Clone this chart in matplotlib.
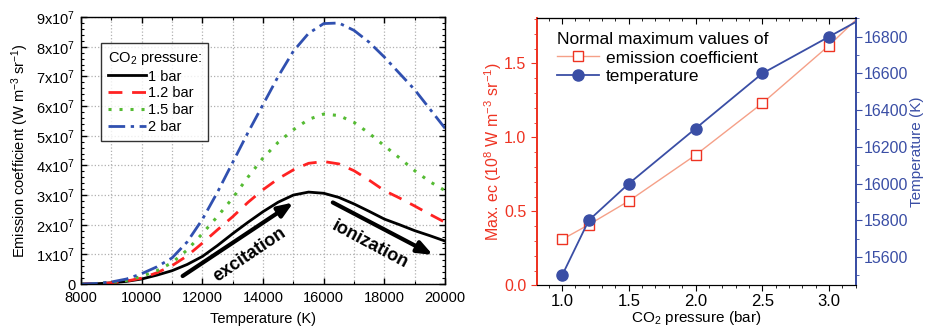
import numpy as np
import matplotlib
matplotlib.use("Agg")
import matplotlib.pyplot as plt
from matplotlib.ticker import MultipleLocator, FuncFormatter

plt.rcParams['font.family'] = ['Liberation Sans', 'DejaVu Sans']
plt.rcParams['mathtext.fontset'] = 'custom'
plt.rcParams['mathtext.rm'] = 'Liberation Sans'
plt.rcParams['mathtext.it'] = 'Liberation Sans:italic'
plt.rcParams['mathtext.bf'] = 'Liberation Sans:bold'

# ---------------- data: left panel (emission coefficient, units of 1e7) -------------
temperature = [8000, 8500, 9000, 9500, 10000, 10500, 11000, 11500, 12000, 12500,
               13000, 13500, 14000, 14500, 15000, 15500, 16000, 16500, 17000,
               17500, 18000, 18500, 19000, 19500, 20000]
ec_1bar = [0.0, 0.01, 0.04, 0.09, 0.17, 0.30, 0.45, 0.66, 0.93, 1.30,
           1.70, 2.08, 2.44, 2.76, 3.00, 3.10, 3.06, 2.92, 2.70,
           2.45, 2.19, 2.00, 1.80, 1.63, 1.45]
ec_12bar = [0.0, 0.01, 0.04, 0.10, 0.20, 0.38, 0.62, 0.95, 1.38, 1.83,
            2.27, 2.75, 3.18, 3.55, 3.85, 4.07, 4.13, 4.05, 3.82,
            3.50, 3.15, 2.90, 2.63, 2.35, 2.08]
ec_15bar = [0.0, 0.01, 0.05, 0.12, 0.26, 0.45, 0.72, 1.15, 1.70, 2.28,
            2.90, 3.60, 4.25, 4.78, 5.20, 5.55, 5.73, 5.68, 5.45,
            5.08, 4.66, 4.25, 3.82, 3.45, 3.15]
ec_2bar = [0.0, 0.02, 0.07, 0.17, 0.35, 0.58, 0.88, 1.42, 2.18, 3.10,
           4.10, 5.10, 6.05, 7.00, 7.85, 8.45, 8.78, 8.80, 8.55,
           8.15, 7.65, 7.10, 6.55, 5.90, 5.25]
series_labels = ['1 bar', '1.2 bar', '1.5 bar', '2 bar']

# ---------------- data: right panel ----------------
pressure = [1.0, 1.2, 1.5, 2.0, 2.5, 3.0, 3.5]
max_ec = [0.31, 0.41, 0.57, 0.88, 1.23, 1.62, 2.05]          # 1e8 W m-3 sr-1
max_temp = [15500, 15800, 16000, 16300, 16600, 16800, 17000]  # K

fig = plt.figure(figsize=(9.27, 3.28), dpi=100)

# ================= left panel =================
ax = fig.add_axes([0.0874, 0.134, 0.3927, 0.814])
T = np.array(temperature)
scale = 1e7
styles = [dict(color='black', ls='-', lw=2.0),
          dict(color='#ff2222', ls=(0, (5, 3.5)), lw=2.0),
          dict(color='#55bb33', ls=(0, (1, 2.6)), lw=2.2),
          dict(color='#3050b0', ls=(0, (6, 2, 1.2, 2)), lw=2.0)]
for vals, lab, st in zip([ec_1bar, ec_12bar, ec_15bar, ec_2bar], series_labels, styles):
    ax.plot(T, np.array(vals) * scale, label=lab, **st)

ax.set_xlim(8000, 20000)
ax.set_ylim(0, 9e7)
ax.xaxis.set_major_locator(MultipleLocator(2000))
ax.xaxis.set_minor_locator(MultipleLocator(1000))
ax.yaxis.set_major_locator(MultipleLocator(1e7))
ax.yaxis.set_minor_locator(MultipleLocator(0.2e7))


def yfmt(v, pos):
    n = int(round(v / 1e7))
    if n == 0:
        return '0'
    return r'%dx10$^{7}$' % n


ax.yaxis.set_major_formatter(FuncFormatter(yfmt))
ax.tick_params(which='both', direction='in', top=True, right=True, labelsize=10.5)
ax.tick_params(which='major', length=4, width=1)
ax.tick_params(which='minor', length=2.5, width=0.8)
ax.tick_params(axis='x', pad=5)
ax.tick_params(axis='y', pad=4)
ax.grid(which='major', color='#b0b0b0', ls=':', lw=0.9)
ax.xaxis.grid(which='minor', color='#b0b0b0', ls=':', lw=0.9)
ax.set_axisbelow(True)
ax.set_xlabel('Temperature (K)', fontsize=10.5, labelpad=5)
ax.set_ylabel(r'Emission coefficient (W m$^{-3}$ sr$^{-1}$)', fontsize=10.5)
for s in ax.spines.values():
    s.set_linewidth(1.0)

leg = ax.legend(title=r'CO$_2$ pressure:', loc='upper left', bbox_to_anchor=(0.035, 0.93),
                fontsize=10.5, title_fontsize=10.5, frameon=True, fancybox=False,
                edgecolor='black', handlelength=2.6, handletextpad=0.2,
                labelspacing=0.2, borderpad=0.45)
leg.get_frame().set_linewidth(1.0)
leg._legend_box.align = 'left'

# arrows and annotations
exc_start, exc_end = (11350, 0.27e7), (15000, 2.75e7)
ion_start, ion_end = (16300, 2.75e7), (19600, 0.98e7)
arrow_props = dict(arrowstyle='-|>,head_length=0.9,head_width=0.35', lw=3, color='black',
                   shrinkA=0, shrinkB=0)
ax.annotate('', xy=exc_end, xytext=exc_start, arrowprops=arrow_props)
ax.annotate('', xy=ion_end, xytext=ion_start, arrowprops=arrow_props)
ax.text(13550, 1.0e7, 'excitation', rotation=34, ha='center', va='center',
        fontsize=13, fontweight='bold')
ax.text(17530, 1.32e7, 'ionization', rotation=-28, ha='center', va='center',
        fontsize=13, fontweight='bold')

# ================= right panel =================
red = '#ee3322'
salmon = '#f5a088'
blue = '#3a4ea5'
ax2 = fig.add_axes([0.579, 0.13, 0.344, 0.815])
ax3 = ax2.twinx()
l1, = ax2.plot(pressure, max_ec, color=salmon, lw=1.0, marker='s', ms=6.5,
               mfc='white', mec=red, mew=1.0, label='emission coefficient', zorder=3)
l2, = ax3.plot(pressure, max_temp, color=blue, lw=1.3, marker='o', ms=8,
               mfc=blue, mec=blue, label='temperature', zorder=3)
ax2.set_xlim(0.81, 3.2)
ax2.set_ylim(0, 1.806)
ax3.set_ylim(15446, 16902)
ax2.xaxis.set_major_locator(MultipleLocator(0.5))
ax2.xaxis.set_minor_locator(MultipleLocator(0.1))
ax2.yaxis.set_major_locator(MultipleLocator(0.5))
ax2.yaxis.set_minor_locator(MultipleLocator(0.1))
ax3.yaxis.set_major_locator(MultipleLocator(200))
ax3.yaxis.set_minor_locator(MultipleLocator(100))
ax2.xaxis.set_major_formatter(FuncFormatter(lambda v, p: '%.1f' % v))
ax2.yaxis.set_major_formatter(FuncFormatter(lambda v, p: '%.1f' % v))

ax2.tick_params(axis='x', which='both', direction='out', labelsize=12, pad=2)
ax2.tick_params(axis='x', which='major', length=4)
ax2.tick_params(axis='x', which='minor', length=2.5)
ax2.tick_params(axis='y', which='both', direction='out', colors=red, labelsize=11.5)
ax2.tick_params(axis='y', which='major', length=4)
ax2.tick_params(axis='y', which='minor', length=2.5)
ax3.tick_params(axis='y', which='both', direction='out', colors=blue, labelsize=11.5, pad=2)
ax3.tick_params(axis='y', which='major', length=4)
ax3.tick_params(axis='y', which='minor', length=2.5)
secx = ax2.secondary_xaxis('top')
secx.xaxis.set_major_locator(MultipleLocator(0.5))
secx.xaxis.set_minor_locator(MultipleLocator(0.1))
secx.tick_params(which='both', direction='in', labeltop=False)
secx.tick_params(which='major', length=4)
secx.tick_params(which='minor', length=2.5)

for a in (ax2, ax3):
    a.spines['left'].set_color(red)
    a.spines['right'].set_color(blue)
    a.spines['left'].set_linewidth(1.3)
    a.spines['right'].set_linewidth(1.3)
ax2.spines['top'].set_color('#333333')
ax2.spines['bottom'].set_color('#333333')

ax2.set_xlabel(r'CO$_2$ pressure (bar)', fontsize=11, labelpad=0)
ax2.set_ylabel(r'Max. ec (10$^{8}$ W m$^{-3}$ sr$^{-1}$)', color=red, fontsize=11.5, labelpad=0)
ax3.set_ylabel('Temperature (K)', color=blue, fontsize=11, labelpad=1)

leg2 = ax2.legend(handles=[l1, l2], title='Normal maximum values of', loc='upper left',
                  bbox_to_anchor=(0.02, 1.0), frameon=False, fontsize=12.5, title_fontsize=12.5,
                  handlelength=2.4, handletextpad=0.4, labelspacing=0.2, borderpad=0.3)
leg2._legend_box.align = 'left'

fig.savefig('out.png', dpi=100)
